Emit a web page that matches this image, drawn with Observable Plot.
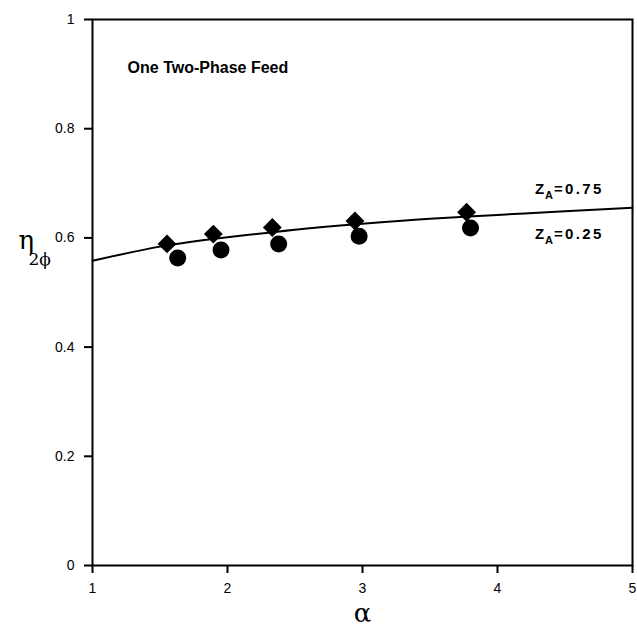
<!DOCTYPE html>
<html>
<head>
<meta charset="utf-8">
<script src="https://cdn.jsdelivr.net/npm/d3@7"></script>
<script src="https://cdn.jsdelivr.net/npm/@observablehq/plot@0.6"></script>
<style>
body { margin: 0; background: #fff; }
svg { display: block; }
</style>
</head>
<body>
<div id="chart"></div>
<script>
// Data
const diamondAlpha = [1.552, 1.895, 2.332, 2.944, 3.771];
const diamondEta   = [0.589, 0.607, 0.619, 0.631, 0.647];   // Z_A = 0.75
const circleAlpha  = [1.631, 1.952, 2.379, 2.975, 3.800];
const circleEta    = [0.563, 0.578, 0.589, 0.603, 0.618];   // Z_A = 0.25
const curveAlpha   = [1, 1.5, 2, 2.5, 3, 3.5, 4, 4.5, 5];
const curveEta     = [0.558, 0.584, 0.601, 0.615, 0.626, 0.635, 0.642, 0.649, 0.655];
const xTicks = [1, 2, 3, 4, 5];
const yTicks = [0, 0.2, 0.4, 0.6, 0.8, 1];
const titleText = "One Two-Phase Feed";
const seriesLabels = ["=0.75", "=0.25"];

const diamonds = diamondAlpha.map((a, i) => ({a, e: diamondEta[i]}));
const circles = circleAlpha.map((a, i) => ({a, e: circleEta[i]}));
const curve = curveAlpha.map((a, i) => ({a, e: curveEta[i]}));

const labelX = 4.277;
const labelY = [0.6896, 0.607];
const sans = "Liberation Sans, Arial, sans-serif";
const serif = "DejaVu Serif, Liberation Serif, serif";
const bold = {fontFamily: sans, fontWeight: "bold", fill: "#000"};

const chart = Plot.plot({
  width: 637,
  height: 629,
  marginLeft: 92,
  marginRight: 5,
  marginTop: 19,
  marginBottom: 64,
  style: {fontFamily: sans, fontSize: "14px", color: "#000", background: "#fff"},
  x: {domain: [1, 5], label: null},
  y: {domain: [0, 1], label: null},
  marks: [
    Plot.frame({stroke: "#000", strokeWidth: 2}),
    Plot.axisX({ticks: xTicks, tickFormat: d => String(d), tickSize: 8, tickPadding: 10, strokeWidth: 2, label: null}),
    Plot.axisY({ticks: yTicks, tickFormat: d => String(d), tickSize: 8, tickPadding: 10, strokeWidth: 2, label: null}),
    Plot.line(curve, {x: "a", y: "e", curve: "natural", stroke: "#000", strokeWidth: 2}),
    Plot.dot(diamonds, {x: "a", y: "e", symbol: "diamond2", r: 8.5, fill: "#000", stroke: "none"}),
    Plot.dot(circles, {x: "a", y: "e", symbol: "circle", r: 8.5, fill: "#000", stroke: "none"}),
    Plot.text([titleText], {x: 1.26, y: 0.912, text: d => d, textAnchor: "start", fontSize: 16, ...bold}),
    // Z_A labels
    Plot.text(labelY, {x: labelX, y: d => d, text: () => "Z", textAnchor: "start", fontSize: 15, ...bold}),
    Plot.text(labelY, {x: labelX, y: d => d, text: () => "A", textAnchor: "start", dx: 10, dy: 6, fontSize: 11, ...bold}),
    Plot.text(labelY, {x: labelX, y: d => d, text: (d, i) => seriesLabels[i], textAnchor: "start", dx: 19, fontSize: 15, ...bold}),
    // axis labels
    Plot.text(["α"], {x: 3, frameAnchor: "bottom", text: d => d, dy: 56, fontSize: 26, fontFamily: serif, fill: "#000"}),
    Plot.text(["η"], {y: 0.595, frameAnchor: "left", text: d => d, dx: -74, textAnchor: "start", fontSize: 26, fontFamily: serif, fill: "#000"}),
    Plot.text(["2\u03D5"], {y: 0.595, frameAnchor: "left", text: d => d, dx: -64, dy: 19, textAnchor: "start", fontSize: 17, fontFamily: serif, fill: "#000"})
  ]
});
chart.querySelectorAll('g[aria-label*="axis"]').forEach(g => {
  g.setAttribute("font-size", "14");
  g.querySelectorAll("text").forEach(t => { t.style.fontSize = "14px"; });
});
chart.querySelectorAll("text").forEach(t => {
  if (seriesLabels.includes(t.textContent)) t.style.letterSpacing = "2.4px";
});
document.getElementById("chart").append(chart);
</script>
</body>
</html>
